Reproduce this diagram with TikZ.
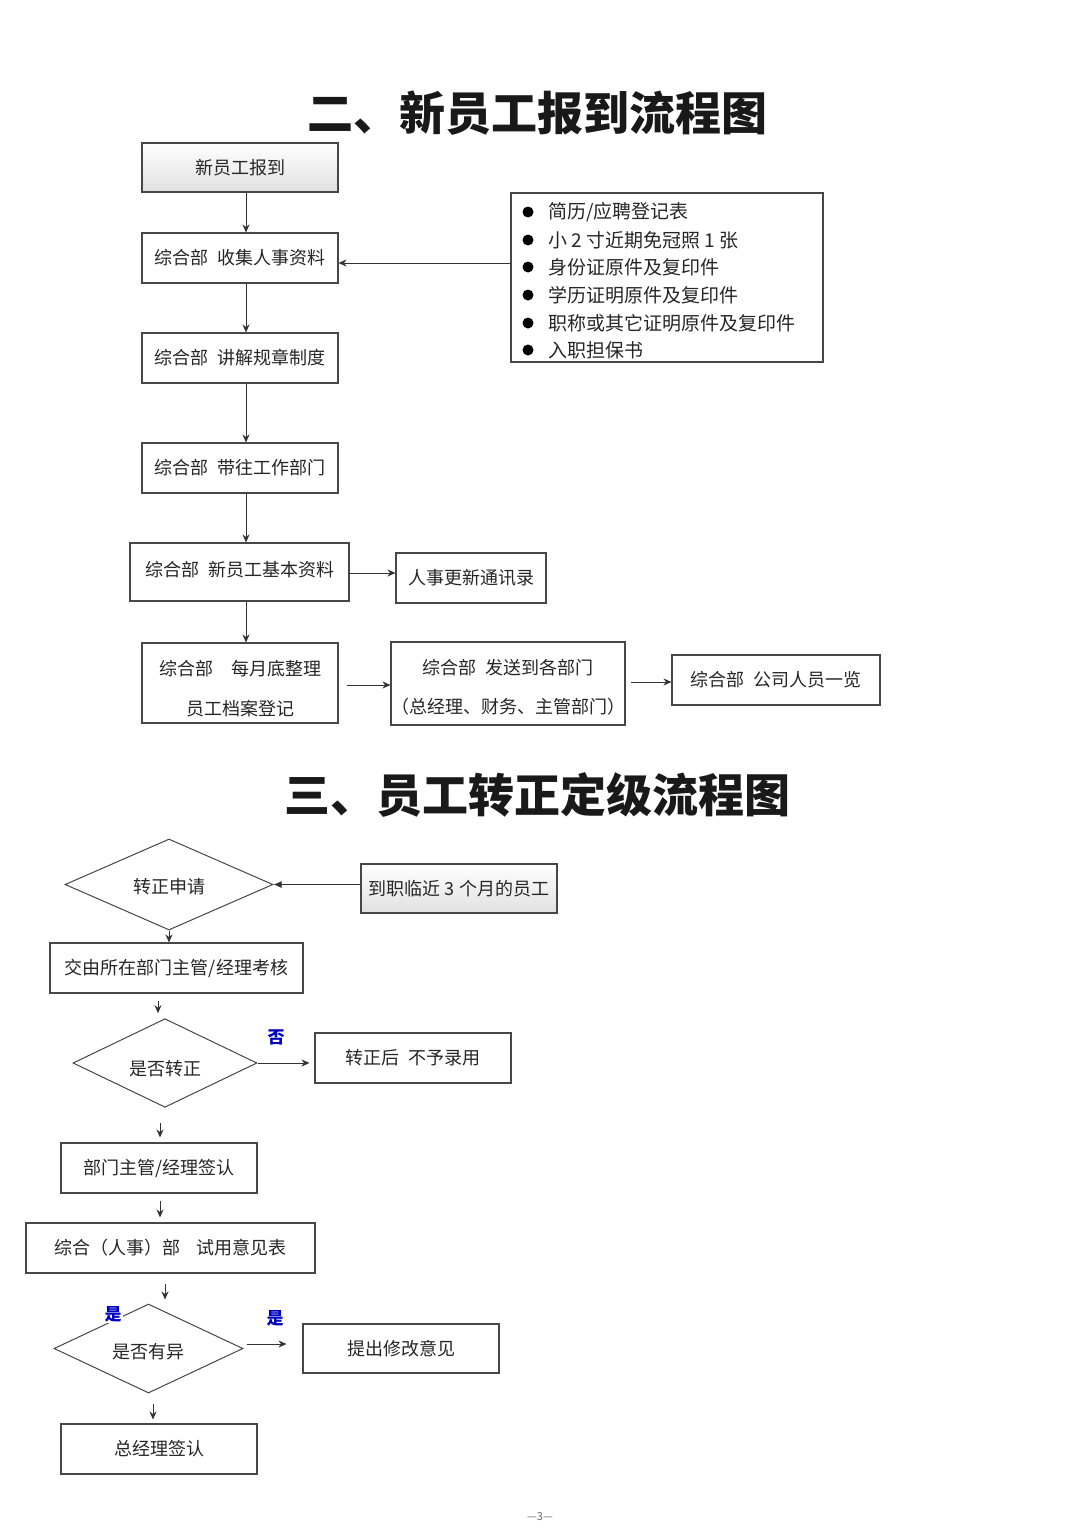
\documentclass[tikz,border=0pt]{standalone}
\usepackage{fontspec}
\setmainfont{Noto Sans CJK SC}
\usetikzlibrary{shapes.geometric,arrows.meta,calc}
\newcommand{\gap}{\hspace{9pt}}
\newcommand{\shiftto}[2]{\raisebox{#1}[\height][\depth]{#2}}
\begin{document}
\begin{tikzpicture}[x=1pt,y=-1pt,
  box/.style={draw=black!72, line width=1.1pt, fill=white, text=black!85,
    font=\fontsize{18}{22}\selectfont, inner sep=0pt, align=center},
  gbox/.style={box, top color=white, middle color=white, bottom color=black!12},
  dia/.style={diamond, draw=black!72, line width=1pt, fill=white, inner sep=0pt,
    text=black!85, font=\fontsize{18}{22}\selectfont},
  arr/.style={draw=black!80, line width=0.9pt, -{Stealth[length=8pt,width=7pt]}},
  tri/.style={draw=black!80, line width=0.9pt, -{Latex[length=8pt,width=7pt]}},
  lbl/.style={text=blue!75!black, font=\fontsize{17}{20}\selectfont\bfseries, inner sep=1pt},
  ttl/.style={text=black!90, font=\fontsize{46}{50}\selectfont\bfseries},
  item/.style={anchor=west, text=black!85, font=\fontsize{19}{22}\selectfont, inner sep=0pt}]
\useasboundingbox[fill=white] (0,0) rectangle (1080,1528);

% ---------- Section 1 ----------
\node[ttl] (t1) at (537,113) {二、新员工报到流程图};

\node[gbox, minimum width=196pt, minimum height=49pt] (n1) at (240,167.5) {新员工报到};
\node[box, minimum width=196pt, minimum height=50pt] (n2) at (240,258) {综合部\gap{}收集人事资料};
\node[box, minimum width=196pt, minimum height=50pt] (n3) at (240,358) {综合部\gap{}讲解规章制度};
\node[box, minimum width=196pt, minimum height=50pt] (n4) at (240,468) {综合部\gap{}带往工作部门};
\node[box, minimum width=219pt, minimum height=58pt] (n5) at (239.5,572) {\shiftto{2pt}{综合部\gap{}新员工基本资料}};
\node[box, minimum width=150pt, minimum height=50pt] (n6) at (471,578) {人事更新通讯录};
\node[box, minimum width=196pt, minimum height=80pt] (n7) at (240,683) {\shiftto{-8.5pt}{\begin{tabular}{@{}c@{}}综合部\hspace{18pt}每月底整理\\[18pt]员工档案登记\end{tabular}}};
\node[box, minimum width=230pt, minimum height=83pt] (n8) at (508,683.5) {\shiftto{-6.5pt}{\begin{tabular}{@{}c@{}}综合部\gap{}发送到各部门\\[17pt]（总经理、财务、主管部门）\end{tabular}}};
\node[box, minimum width=208pt, minimum height=50pt] (n10) at (776,680) {综合部\gap{}公司人员一览};

\node[box, minimum width=312pt, minimum height=169pt] (lst) at (667,277.5) {};
\foreach \yy/\tx [count=\i] in {212/{简历/应聘登记表},240/{小 2 寸近期免冠照 1 张},267/{身份证原件及复印件},295/{学历证明原件及复印件},323/{职称或其它证明原件及复印件},350/{入职担保书}}{
  \fill[black] (528,\yy) circle (5.5pt);
  \node[item] (li\i) at (548,\yy) {\tx};
}

\draw[arr] ([xshift=6pt]n1.south) -- ([xshift=6pt]n1.south |- n2.north);
\draw[arr] ([xshift=6pt]n2.south) -- ([xshift=6pt]n2.south |- n3.north);
\draw[arr] ([xshift=6pt]n3.south) -- ([xshift=6pt]n3.south |- n4.north);
\draw[arr] ([xshift=6pt]n4.south) -- ([xshift=6pt]n4.south |- n5.north);
\draw[arr] ([xshift=6.5pt]n5.south) -- ([xshift=6.5pt]n5.south |- n7.north);
\draw[arr] ([yshift=-5pt]n2.east -| lst.west) -- ([yshift=-5pt]n2.east);
\draw[arr] ([yshift=-1pt]n5.east) -- ([yshift=-1pt]n5.east -| n6.west);
\draw[arr, shorten <=8pt] ([yshift=-2pt]n7.east) -- ([yshift=-2pt]n7.east -| n8.west);
\draw[arr, shorten <=5pt] ([yshift=1.5pt]n8.east) -- ([yshift=1.5pt]n8.east -| n10.west);

% ---------- Section 2 ----------
\node[ttl] (t2) at (537.5,795) {三、员工转正定级流程图};

\node[dia, minimum width=208pt, minimum height=91pt] (d1) at (169,884.5) {\shiftto{-2pt}{转正申请}};
\node[gbox, minimum width=196pt, minimum height=49pt] (rb) at (459,888.5) {到职临近 3 个月的员工};
\node[box, minimum width=253pt, minimum height=50pt] (n11) at (176.5,968) {交由所在部门主管/经理考核};
\node[dia, minimum width=184pt, minimum height=80pt] (d2) at (165,1063) {\shiftto{-6pt}{是否转正}};
\node[box, minimum width=196pt, minimum height=50pt] (n12) at (413,1058) {转正后\gap{}不予录用};
\node[box, minimum width=196pt, minimum height=50pt] (n13) at (159,1168) {部门主管/经理签认};
\node[box, minimum width=289pt, minimum height=50pt] (n14) at (170.5,1248) {综合（人事）部\hspace{16pt}试用意见表};
\node[dia, minimum width=189pt, minimum height=89pt] (d3) at (148.5,1348.5) {\shiftto{-3pt}{是否有异}};
\node[box, minimum width=196pt, minimum height=49pt] (n15) at (401,1348.5) {提出修改意见};
\node[box, minimum width=196pt, minimum height=50pt] (n16) at (159,1449) {总经理签认};

\node[lbl] (l1) at (276,1037) {否};
\node[lbl, fill=white] (l2) at (113,1314) {是};
\node[lbl] (l3) at (275,1318) {是};

\draw[tri] (d1.east -| rb.west) -- (d1.east);
\draw[arr] (d1.south) -- (d1.south |- n11.north);
\draw[arr, shorten <=7pt, shorten >=5pt] ([xshift=-18.5pt]n11.south) -- ([xshift=-18.5pt]n11.south |- d2.north);
\draw[arr, shorten >=5pt] (d2.east) -- (d2.east -| n12.west);
\draw[arr, shorten <=15pt, shorten >=5pt] ([xshift=-5pt]d2.south) -- ([xshift=-5pt]d2.south |- n13.north);
\draw[arr, shorten <=7pt, shorten >=5pt] ([xshift=1pt]n13.south) -- ([xshift=1pt]n13.south |- n14.north);
\draw[arr, shorten <=10pt, shorten >=4pt] ([xshift=-5.5pt]n14.south) -- ([xshift=-5.5pt]n14.south |- d3.north);
\draw[arr, shorten <=3pt, shorten >=16pt] ([yshift=4.5pt]d3.east) -- ([yshift=4.5pt]d3.east -| n15.west);
\draw[arr, shorten <=10pt, shorten >=4pt] ([xshift=4.5pt]d3.south) -- ([xshift=4.5pt]d3.south |- n16.north);

\node[text=black!60, font=\fontsize{11}{13}\selectfont] (pg) at (540,1517) {—3—};
\end{tikzpicture}
\end{document}
